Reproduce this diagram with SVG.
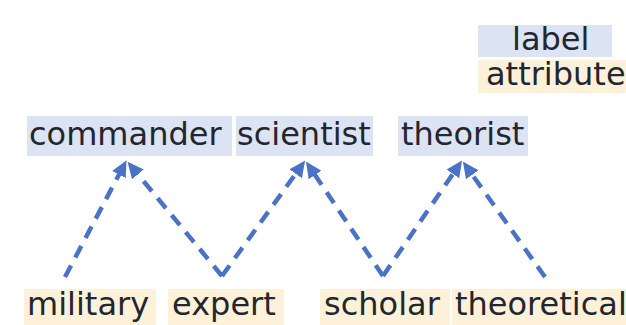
<svg xmlns="http://www.w3.org/2000/svg" width="626" height="325" viewBox="0 0 626 325">
<defs>
<style>
text{font-family:"DejaVu Sans",Verdana,sans-serif;font-size:32px;fill:#23262e}
.lb{fill:#dce3f3}
.at{fill:#fdf1da}
.c{fill:none;stroke:#4a72c6;stroke-width:4.5;stroke-dasharray:13 9}
</style>
<marker id="ah" markerWidth="3.6" markerHeight="3.4" refX="2.4" refY="1.7" orient="auto" markerUnits="strokeWidth" viewBox="0 0 3.6 3.4">
<path d="M0,0 L3.6,1.7 L0,3.4 z" fill="#4a72c6"/>
</marker>
</defs>
<rect width="626" height="325" fill="#ffffff"/>
<g id="legend-label"><rect class="lb" x="478" y="25" width="134" height="32"/><text x="512" y="50">label</text></g>
<g id="legend-attribute"><rect class="at" x="478" y="60" width="148" height="33"/><text x="486" y="85">attribute</text></g>
<g id="commander"><rect class="lb" x="27" y="116" width="205" height="40"/><text x="29" y="145">commander</text></g>
<g id="scientist"><rect class="lb" x="236" y="116" width="137" height="40"/><text x="237" y="145">scientist</text></g>
<g id="theorist"><rect class="lb" x="398" y="116" width="130" height="40"/><text x="401" y="145">theorist</text></g>
<g id="military"><rect class="at" x="24" y="289" width="132" height="36"/><text x="27" y="315">military</text></g>
<g id="expert"><rect class="at" x="168" y="289" width="116" height="36"/><text x="172" y="315">expert</text></g>
<g id="scholar"><rect class="at" x="320" y="289" width="130" height="36"/><text x="324" y="315">scholar</text></g>
<g id="theoretical"><rect class="at" x="452" y="289" width="174" height="36"/><text x="455" y="315">theoretical</text></g>
<g id="connectors">
<path class="c" d="M65,277 L124,165" marker-end="url(#ah)"/>
<path class="c" d="M222,276 L131,166" marker-end="url(#ah)"/>
<path class="c" d="M222,276 L302,165" marker-end="url(#ah)"/>
<path class="c" d="M383,276 L309,166" marker-end="url(#ah)"/>
<path class="c" d="M383,276 L459,165" marker-end="url(#ah)"/>
<path class="c" d="M545,277 L466,166" marker-end="url(#ah)"/>
</g>
</svg>
